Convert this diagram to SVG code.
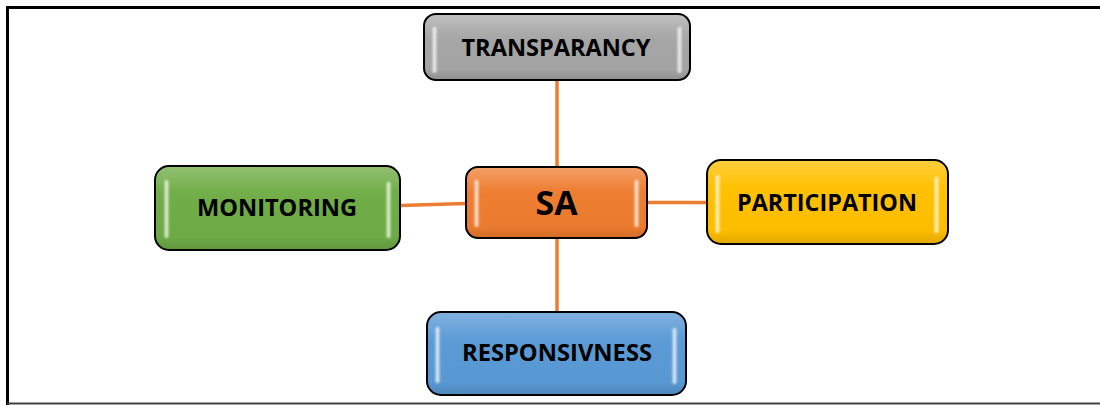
<svg xmlns="http://www.w3.org/2000/svg" width="1100" height="405" viewBox="0 0 1100 405">
<defs>
<linearGradient id="shade" x1="0" y1="0" x2="0" y2="1">
<stop offset="0" stop-color="#fff" stop-opacity="0.15"/>
<stop offset="0.3" stop-color="#fff" stop-opacity="0"/>
<stop offset="0.85" stop-color="#000" stop-opacity="0"/>
<stop offset="1" stop-color="#000" stop-opacity="0.1"/>
</linearGradient>
<linearGradient id="strip" x1="0" y1="0" x2="1" y2="0">
<stop offset="0" stop-color="#fff" stop-opacity="0.2"/>
<stop offset="0.5" stop-color="#fff" stop-opacity="0.9"/>
<stop offset="1" stop-color="#fff" stop-opacity="0.2"/>
</linearGradient>
<filter id="soft" x="-1" y="-0.2" width="3" height="1.4"><feGaussianBlur stdDeviation="0.8"/></filter>
<linearGradient id="gGray" x1="0" y1="0" x2="0" y2="1"><stop offset="0" stop-color="#b5b5b5"/><stop offset="0.4" stop-color="#a6a6a6"/><stop offset="1" stop-color="#a2a2a2"/></linearGradient>
<linearGradient id="gOrange" x1="0" y1="0" x2="0" y2="1"><stop offset="0" stop-color="#f28f4d"/><stop offset="0.4" stop-color="#ed7d31"/><stop offset="1" stop-color="#ea7a2d"/></linearGradient>
<linearGradient id="gGreen" x1="0" y1="0" x2="0" y2="1"><stop offset="0" stop-color="#7db556"/><stop offset="0.4" stop-color="#70ad47"/><stop offset="1" stop-color="#6ca944"/></linearGradient>
<linearGradient id="gGold" x1="0" y1="0" x2="0" y2="1"><stop offset="0" stop-color="#ffc61a"/><stop offset="0.4" stop-color="#ffc000"/><stop offset="1" stop-color="#fbbc00"/></linearGradient>
<linearGradient id="gBlue" x1="0" y1="0" x2="0" y2="1"><stop offset="0" stop-color="#69a4d9"/><stop offset="0.4" stop-color="#5b9bd5"/><stop offset="1" stop-color="#5797d1"/></linearGradient>
</defs>
<style>
.box{stroke:#000;stroke-width:2}
.hl{fill:url(#strip);filter:url(#soft)}
.lbl{font-family:"Open Sans",Lato,"Liberation Sans",sans-serif;font-weight:700;fill:#000;text-anchor:middle;dominant-baseline:central}
.conn{stroke:#ed7d31;stroke-width:3.5;fill:none}
.frame{stroke:#000;stroke-width:3;fill:none}
</style>
<rect width="1100" height="405" fill="#fff"/>
<path class="frame" d="M7.5,405 V7.5 H1100"/>
<line x1="7" y1="403.5" x2="1100" y2="403.5" stroke="#404040" stroke-width="2"/>
<g id="connectors">
<line class="conn" x1="557" y1="80" x2="557" y2="167"/>
<line class="conn" x1="557" y1="238" x2="557" y2="312"/>
<line class="conn" x1="400" y1="205.5" x2="466" y2="203.5"/>
<line class="conn" x1="647" y1="202.5" x2="707" y2="202.5"/>
</g>
<g id="node-transparancy">
<rect class="box" x="424" y="14" width="266" height="66" rx="12" fill="url(#gGray)"/>
<rect x="425" y="15" width="264" height="64" rx="11" fill="url(#shade)"/>
<rect class="hl" x="432" y="27" width="5" height="46" rx="2.5"/>
<rect class="hl" x="677" y="27" width="5" height="46" rx="2.5"/>
<text class="lbl" x="556" y="46" font-size="24" textLength="189" lengthAdjust="spacingAndGlyphs">TRANSPARANCY</text>
</g>
<g id="node-sa">
<rect class="box" x="466" y="167" width="181" height="71" rx="12" fill="url(#gOrange)"/>
<rect x="467" y="168" width="179" height="69" rx="11" fill="url(#shade)"/>
<rect class="hl" x="474" y="180" width="5" height="47" rx="2.5"/>
<rect class="hl" x="634" y="180" width="5" height="47" rx="2.5"/>
<text class="lbl" x="556.5" y="202" font-size="34" textLength="42" lengthAdjust="spacingAndGlyphs">SA</text>
</g>
<g id="node-monitoring">
<rect class="box" x="155" y="166" width="245" height="84" rx="14" fill="url(#gGreen)"/>
<rect x="156" y="167" width="243" height="82" rx="13" fill="url(#shade)"/>
<rect class="hl" x="164" y="180" width="5" height="58" rx="2.5"/>
<rect class="hl" x="386" y="182" width="5" height="56" rx="2.5"/>
<text class="lbl" x="277" y="206" font-size="24" textLength="160" lengthAdjust="spacingAndGlyphs">MONITORING</text>
</g>
<g id="node-participation">
<rect class="box" x="707" y="160" width="241" height="84" rx="14" fill="url(#gGold)"/>
<rect x="708" y="161" width="239" height="82" rx="13" fill="url(#shade)"/>
<rect class="hl" x="715" y="175" width="5" height="58" rx="2.5"/>
<rect class="hl" x="934" y="177" width="5" height="56" rx="2.5"/>
<text class="lbl" x="827" y="201" font-size="24" textLength="180" lengthAdjust="spacingAndGlyphs">PARTICIPATION</text>
</g>
<g id="node-responsivness">
<rect class="box" x="427" y="312" width="259" height="83" rx="14" fill="url(#gBlue)"/>
<rect x="428" y="313" width="257" height="81" rx="13" fill="url(#shade)"/>
<rect class="hl" x="435" y="327" width="5" height="56" rx="2.5"/>
<rect class="hl" x="672" y="328" width="5" height="56" rx="2.5"/>
<text class="lbl" x="557" y="351" font-size="24" textLength="190" lengthAdjust="spacingAndGlyphs">RESPONSIVNESS</text>
</g>
</svg>
